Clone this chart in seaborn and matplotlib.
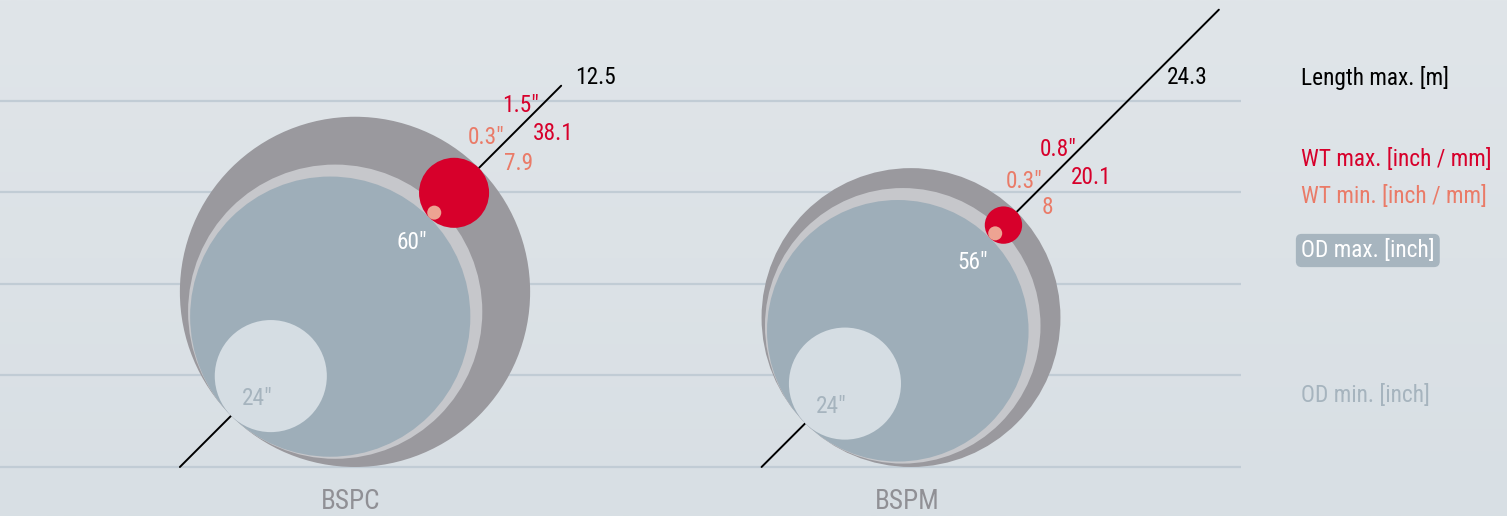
import numpy as np
import pandas as pd
import seaborn as sns
import matplotlib.pyplot as plt
from matplotlib.patches import Circle
from matplotlib.colors import LinearSegmentedColormap

# Datos de los modelos
modelos = ["BSPC", "BSPM"]
od_max = [60, 56]            # pulgadas
od_min = [24, 24]            # pulgadas
wt_max_in = [1.5, 0.8]       # pulgadas
wt_max_mm = [38.1, 20.1]     # mm
wt_min_in = [0.3, 0.3]       # pulgadas
wt_min_mm = [7.9, 8]         # mm
largo_max = [12.5, 24.3]     # metros

leyenda = ["Length max. [m]", "WT max. [inch / mm]", "WT min. [inch / mm]",
           "OD max. [inch]", "OD min. [inch]"]

# Colores
C_FONDO_SUP = "#e0e5e9"
C_FONDO_INF = "#d8dfe4"
C_GRID = "#c1ccd5"
C_EXT = "#9a999e"
C_ANILLO = "#c6c7cb"
C_AZUL = "#9eaeb9"
C_CHICO = "#d5dde3"
C_ROJO = "#d7002b"
C_ROSA = "#eda392"
C_SALMON = "#ea7b68"
C_ODMIN = "#a6b4be"
C_MODELO = "#909095"

# Escalas / disposicion
W, H = 1507, 516
PX_IN = 4.67        # pixeles por pulgada de diametro
WT_ESC = 10         # el espesor se dibuja 10x
centros_x = [355, 911]
base = 467
grid_y = np.linspace(base, 100.7, 5)
diag = np.array([1.0, -1.0]) / np.sqrt(2)
FS = 16.8

sns.set_theme(style="white")
plt.rcParams['font.family'] = ['Roboto Condensed', 'Liberation Sans Narrow', 'Roboto', 'DejaVu Sans']

fig = plt.figure(figsize=(W / 100, H / 100), dpi=100)
ax = fig.add_axes([0, 0, 1, 1])
ax.set_xlim(0, W)
ax.set_ylim(H, 0)
ax.axis('off')

# Fondo degradado
grad = np.linspace(0, 1, 256).reshape(-1, 1)
cmap = LinearSegmentedColormap.from_list("fondo", [C_FONDO_SUP, C_FONDO_INF])
ax.imshow(grad, extent=[0, W, H, 0], cmap=cmap, aspect='auto', zorder=0)

# Lineas horizontales
ax.hlines(grid_y, 0, 1241, color=C_GRID, lw=1.6, zorder=1)

for i, m in enumerate(modelos):
    d_ext = (od_max[i] + wt_max_in[i] * WT_ESC) * PX_IN
    R = d_ext / 2
    centro = np.array([centros_x[i], base - R])
    T = centro - R * diag                     # punto de tangencia
    B = T + od_max[i] * PX_IN * diag          # borde del OD max
    F = T + d_ext * diag                      # borde exterior

    # linea diagonal (largo)
    k = 241.5 + 7.08 * largo_max[i]
    x0 = T[0] - (base - T[1])
    df = pd.DataFrame({"x": [x0, T[0] + k], "y": [base, T[1] - k]})
    sns.lineplot(data=df, x="x", y="y", sort=False, color="black", lw=1.4, ax=ax, zorder=2)

    # circulos
    d_anillo = (od_max[i] + wt_min_in[i] * WT_ESC) * PX_IN
    d_azul = od_max[i] * PX_IN
    d_chico = od_min[i] * PX_IN
    d_rojo = wt_max_in[i] * WT_ESC * PX_IN
    d_rosa = wt_min_in[i] * WT_ESC * PX_IN
    ax.add_patch(Circle(centro, R, fc=C_EXT, ec='none', zorder=3))
    ax.add_patch(Circle(T + d_anillo / 2 * diag, d_anillo / 2, fc=C_ANILLO, ec='none', zorder=4))
    ax.add_patch(Circle(T + d_azul / 2 * diag, d_azul / 2, fc=C_AZUL, ec='none', zorder=5))
    c_chico = T + d_chico / 2 * diag
    ax.add_patch(Circle(c_chico, d_chico / 2, fc=C_CHICO, ec='none', zorder=6))
    ax.add_patch(Circle(B + d_rojo / 2 * diag, d_rojo / 2, fc=C_ROJO, ec='none', zorder=7))
    ax.add_patch(Circle(B + d_rosa / 2 * diag, d_rosa / 2, fc=C_ROSA, ec='none', zorder=8))

    # textos
    y_len = 76
    x_len = min(T[0] + k, T[0] + (T[1] - y_len)) + 14
    ax.text(x_len, y_len + 8, f"{largo_max[i]:g}", color="black", fontsize=FS, va='baseline', ha='left', zorder=9)
    ax.text(F[0] + 23, F[1] - 64 + 8, f'{wt_max_in[i]:g}"', color=C_ROJO, fontsize=FS, va='baseline', zorder=9)
    ax.text(F[0] + 54, F[1] - 36 + 8, f"{wt_max_mm[i]:g}", color=C_ROJO, fontsize=FS, va='baseline', zorder=9)
    ax.text(F[0] - 11, F[1] - 32 + 8, f'{wt_min_in[i]:g}"', color=C_SALMON, fontsize=FS, va='baseline', zorder=9)
    ax.text(F[0] + 25, F[1] - 6 + 8, f"{wt_min_mm[i]:g}", color=C_SALMON, fontsize=FS, va='baseline', zorder=9)
    ax.text(B[0] - 2, B[1] + 23 + 8, f'{od_max[i]}"', color="white", fontsize=FS, va='baseline', ha='right', zorder=9)
    ax.text(c_chico[0] - 13.5, c_chico[1] + 21 + 8, f'{od_min[i]}"', color=C_ODMIN, fontsize=FS,
            va='baseline', ha='center', zorder=9)
    ax.text(centro[0] - 4, 509, m, color=C_MODELO, fontsize=19.5, va='baseline', ha='center', zorder=9)

# Leyenda
ley_y = [77, 158, 195, 249, 394]
ley_c = ["black", C_ROJO, C_SALMON, "white", C_ODMIN]
for txt, yy, cc in zip(leyenda, ley_y, ley_c):
    kw = {}
    if txt.startswith("OD max"):
        kw["bbox"] = dict(boxstyle="round,pad=0.22,rounding_size=0.25", fc="#a7b5bf", ec="none")
    ax.text(1301, yy + 8, txt, color=cc, fontsize=FS, va='baseline', ha='left', zorder=9, **kw)

plt.savefig("out.png", dpi=100)
plt.close()
